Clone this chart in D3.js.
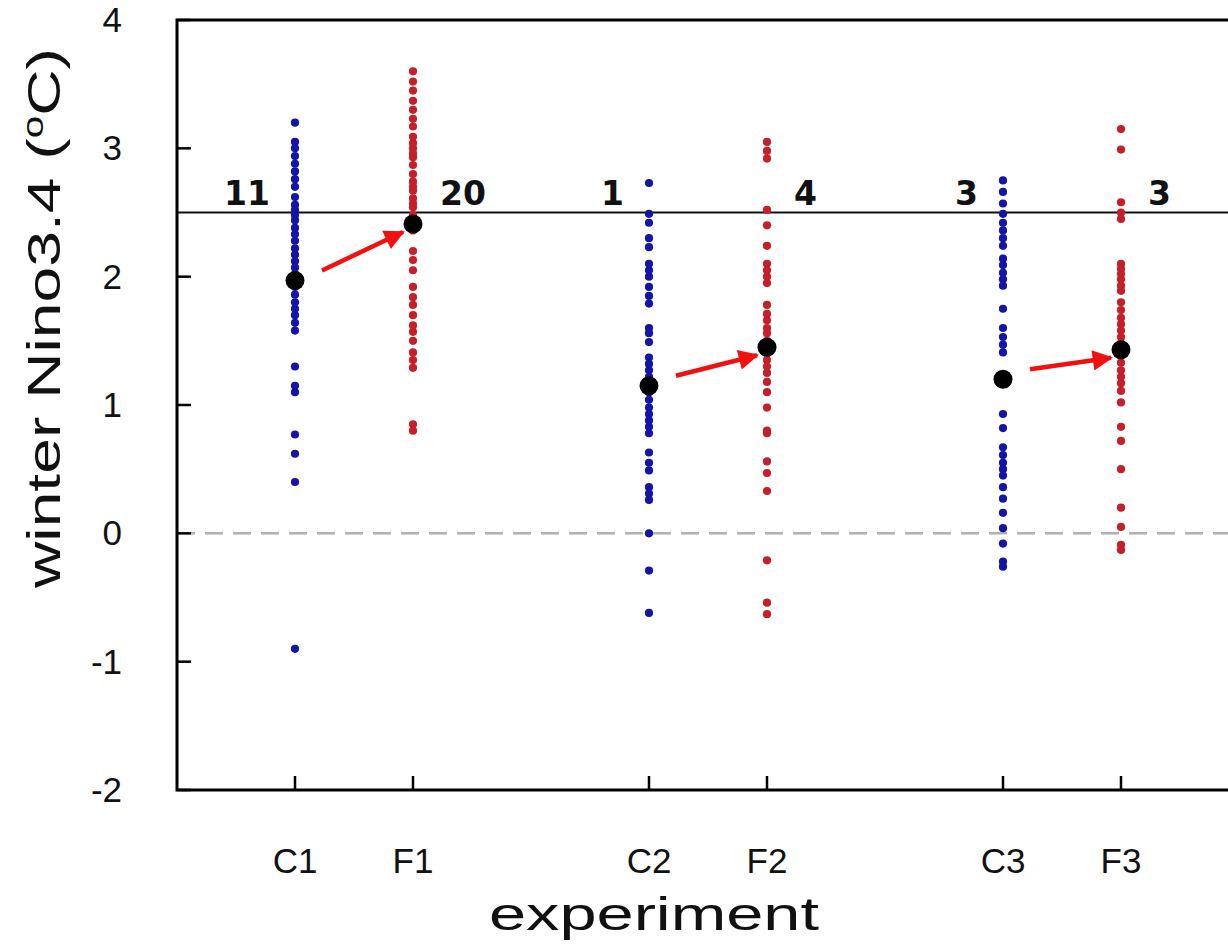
<!DOCTYPE html>
<html lang="en">
<head>
  <meta charset="UTF-8">
  <title>winter Nino3.4 by experiment</title>
  <style>
    body { margin: 0; padding: 0; background: #fff; }
    svg { display: block; }
    .tick-label { font: 35px "Liberation Sans", Arial, sans-serif; fill: #111; }
    .title { font: 46px "Liberation Sans", Arial, sans-serif; fill: #111; }
    .count { font: bold 33px "DejaVu Sans", sans-serif; fill: #111; }
  </style>
</head>
<body>
  <svg width="1228" height="945"></svg>

  <script src="https://d3js.org/d3.v7.min.js"></script>
  <script>
    // experiments and their slot on the x axis
    const experiments = ["C1", "F1", "C2", "F2", "C3", "F3"];
    const slots = [1, 2, 4, 5, 7, 8];

    // ensemble members (winter Nino3.4, degC)
    const c1 = [3.2, 3.05, 3.0, 2.94, 2.88, 2.82, 2.76, 2.7, 2.62, 2.56, 2.52, 2.48, 2.44, 2.38, 2.33, 2.28, 2.22, 2.17,
      2.12, 2.07, 2.02, 1.97, 1.92, 1.86, 1.8, 1.75, 1.7, 1.64, 1.58, 1.3, 1.15, 1.1, 0.77, 0.62, 0.4, -0.9];
    const f1 = [3.6, 3.52, 3.45, 3.37, 3.3, 3.23, 3.17, 3.09, 3.04, 3.0, 2.96, 2.93, 2.87, 2.8, 2.74, 2.7, 2.67, 2.61,
      2.57, 2.54, 2.48, 2.42, 2.36, 2.2, 2.13, 2.05, 1.92, 1.84, 1.78, 1.7, 1.62, 1.57, 1.5, 1.41, 1.35, 1.29, 0.85, 0.8];
    const c2 = [2.73, 2.49, 2.42, 2.3, 2.23, 2.1, 2.05, 2.0, 1.92, 1.85, 1.79, 1.6, 1.56, 1.49, 1.37, 1.32, 1.27, 1.22,
      1.18, 1.1, 1.04, 0.98, 0.93, 0.88, 0.83, 0.78, 0.63, 0.55, 0.49, 0.36, 0.31, 0.26, 0.0, -0.29, -0.62];
    const f2 = [3.05, 2.98, 2.92, 2.52, 2.4, 2.24, 2.1, 2.05, 2.0, 1.95, 1.78, 1.71, 1.66, 1.6, 1.56, 1.5, 1.46, 1.4,
      1.35, 1.3, 1.25, 1.18, 1.1, 0.98, 0.8, 0.78, 0.56, 0.47, 0.33, -0.21, -0.54, -0.63];
    const c3 = [2.75, 2.66, 2.57, 2.49, 2.42, 2.36, 2.3, 2.24, 2.14, 2.09, 2.03, 1.98, 1.93, 1.75, 1.6, 1.53, 1.47, 1.41,
      1.22, 1.18, 0.93, 0.82, 0.67, 0.61, 0.55, 0.5, 0.45, 0.36, 0.27, 0.16, 0.04, -0.08, -0.22, -0.26];
    const f3 = [3.15, 2.99, 2.58, 2.5, 2.45, 2.1, 2.06, 2.02, 1.98, 1.93, 1.89, 1.8, 1.74, 1.68, 1.63, 1.58, 1.53, 1.48,
      1.4, 1.33, 1.27, 1.22, 1.17, 1.11, 1.02, 0.83, 0.72, 0.5, 0.2, 0.05, -0.09, -0.13];
    const members = [c1, f1, c2, f2, c3, f3];

    // ensemble means (big black dots) and number of members above threshold
    const means = [1.97, 2.41, 1.15, 1.45, 1.2, 1.43];
    const counts = ["11", "20", "1", "4", "3", "3"];
    const threshold = 2.5;
    const yTicks = [-2, -1, 0, 1, 2, 3, 4];

    const svg = d3.select("svg");
    const x = d3.scaleLinear().domain([0, 9]).range([177, 1239]);
    const y = d3.scaleLinear().domain([-2, 4]).range([790, 20]);

    const plotL = x(0), plotR = 1240, plotT = y(4), plotB = y(-2);

    // reference lines
    svg.append("line")
      .attr("x1", plotL).attr("x2", plotR)
      .attr("y1", y(0)).attr("y2", y(0))
      .attr("stroke", "#b0b0b0").attr("stroke-width", 2.5)
      .attr("stroke-dasharray", "18,10");
    svg.append("line")
      .attr("x1", plotL).attr("x2", plotR)
      .attr("y1", y(threshold)).attr("y2", y(threshold))
      .attr("stroke", "#111").attr("stroke-width", 2);

    // member dots
    members.forEach((vals, i) => {
      const color = i % 2 === 0 ? "#1414a8" : "#c61f2a";
      svg.append("g").selectAll("circle")
        .data(vals)
        .enter().append("circle")
        .attr("cx", x(slots[i]))
        .attr("cy", d => y(d))
        .attr("r", 4.1)
        .attr("fill", color);
    });

    // arrows control -> forced
    const defs = svg.append("defs");
    defs.append("marker")
      .attr("id", "head")
      .attr("viewBox", "0 0 10 10")
      .attr("refX", 9).attr("refY", 5)
      .attr("markerWidth", 5.5).attr("markerHeight", 4.5)
      .attr("markerUnits", "strokeWidth")
      .attr("orient", "auto")
      .append("path").attr("d", "M0,0L10,5L0,10Z").attr("fill", "#f01010");

    [0, 2, 4].forEach(i => {
      svg.append("line")
        .attr("x1", x(slots[i]) + 27).attr("y1", y(means[i]) - 10)
        .attr("x2", x(slots[i + 1]) - 10).attr("y2", y(means[i + 1]) + 8)
        .attr("stroke", "#f01010").attr("stroke-width", 4.5)
        .attr("marker-end", "url(#head)");
    });

    // mean dots
    svg.append("g").selectAll("circle")
      .data(means)
      .enter().append("circle")
      .attr("cx", (d, i) => x(slots[i]))
      .attr("cy", d => y(d))
      .attr("r", 9.5)
      .attr("fill", "#000");

    // counts above threshold
    svg.append("g").selectAll("text")
      .data(counts)
      .enter().append("text")
      .attr("class", "count")
      .attr("x", (d, i) => i % 2 === 0 ? x(slots[i]) - 25 : x(slots[i]) + 27)
      .attr("y", y(threshold) - 8)
      .attr("text-anchor", (d, i) => i % 2 === 0 ? "end" : "start")
      .text(d => d);

    // frame
    svg.append("path")
      .attr("d", `M${plotR},${plotT}H${plotL}V${plotB}H${plotR}`)
      .attr("stroke", "#000").attr("stroke-width", 3).attr("fill", "none");

    // y ticks (inward) and labels
    svg.append("g").selectAll("line")
      .data(yTicks)
      .enter().append("line")
      .attr("x1", plotL).attr("x2", plotL + 14)
      .attr("y1", d => y(d)).attr("y2", d => y(d))
      .attr("stroke", "#000").attr("stroke-width", 2.5);
    svg.append("g").selectAll("text")
      .data(yTicks)
      .enter().append("text")
      .attr("class", "tick-label")
      .attr("x", plotL - 55)
      .attr("y", d => y(d) + 12)
      .attr("text-anchor", "end")
      .text(d => d);

    // x ticks and labels
    svg.append("g").selectAll("line")
      .data(slots)
      .enter().append("line")
      .attr("x1", d => x(d)).attr("x2", d => x(d))
      .attr("y1", plotB).attr("y2", plotB - 14)
      .attr("stroke", "#000").attr("stroke-width", 2.5);
    svg.append("g").selectAll("text")
      .data(experiments)
      .enter().append("text")
      .attr("class", "tick-label")
      .attr("x", (d, i) => x(slots[i]))
      .attr("y", 873)
      .attr("text-anchor", "middle")
      .text(d => d);

    // axis titles
    svg.append("text")
      .attr("class", "title")
      .attr("x", 654).attr("y", 930)
      .attr("text-anchor", "middle")
      .attr("textLength", 330)
      .attr("lengthAdjust", "spacingAndGlyphs")
      .text("experiment");

    const yl = svg.append("text")
      .attr("class", "title")
      .attr("transform", "translate(60,318) rotate(-90)")
      .attr("text-anchor", "middle")
      .attr("textLength", 540)
      .attr("lengthAdjust", "spacingAndGlyphs");
    yl.append("tspan").text("winter Nino3.4 (");
    yl.append("tspan").attr("font-size", "29px").attr("dy", -17).text("o");
    yl.append("tspan").attr("dy", 17).text("C)");
  </script>
</body>
</html>
